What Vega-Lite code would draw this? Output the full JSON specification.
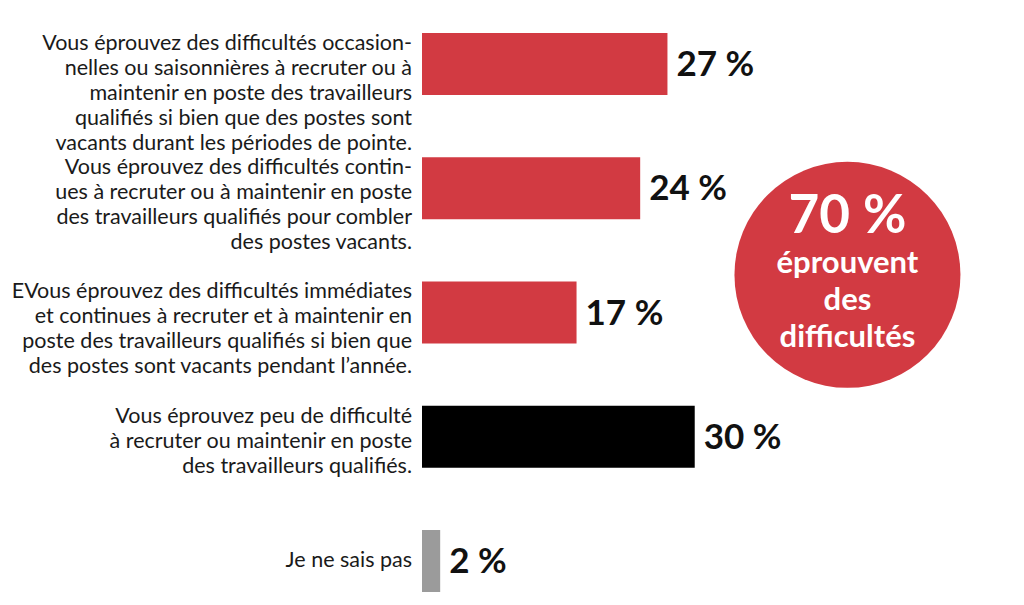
{
  "$schema": "https://vega.github.io/schema/vega-lite/v6.json",
  "autosize": "none",
  "width": 600,
  "height": 579,
  "padding": {"left": 422, "top": 23, "right": 2, "bottom": 3},
  "background": "white",
  "config": {"view": {"stroke": null}, "font": "Lato"},
  "datasets": {
    "bars": [
      {"cat": "a", "label": "Vous éprouvez des difficultés occasion-\nnelles ou saisonnières à recruter ou à\nmaintenir en poste des travailleurs\nqualifiés si bien que des postes sont\nvacants durant les périodes de pointe.", "value": 27, "valueLabel": "27 %", "group": "diff"},
      {"cat": "b", "label": "Vous éprouvez des difficultés contin-\nues à recruter ou à maintenir en poste\ndes travailleurs qualifiés pour combler\ndes postes vacants.", "value": 24, "valueLabel": "24 %", "group": "diff"},
      {"cat": "c", "label": "EVous éprouvez des difficultés immédiates\net continues à recruter et à maintenir en\nposte des travailleurs qualifiés si bien que\ndes postes sont vacants pendant l’année.", "value": 17, "valueLabel": "17 %", "group": "diff"},
      {"cat": "d", "label": "Vous éprouvez peu de difficulté\nà recruter ou maintenir en poste\ndes travailleurs qualifiés.", "value": 30, "valueLabel": "30 %", "group": "peu"},
      {"cat": "e", "label": "Je ne sais pas", "value": 2, "valueLabel": "2 %", "group": "ns"}
    ],
    "badge": [
      {"x": 46.8, "y": 0.565, "big": "70 %", "small": "éprouvent\ndes\ndifficultés"}
    ]
  },
  "resolve": {"scale": {"y": "independent"}},
  "layer": [
    {
      "data": {"name": "bars"},
      "encoding": {
        "y": {"field": "cat", "type": "nominal", "axis": null,
              "scale": {"paddingInner": 0.501, "paddingOuter": 0.0805}}
      },
      "layer": [
        {
          "mark": {"type": "bar"},
          "encoding": {
            "x": {"field": "value", "type": "quantitative", "axis": null,
                  "scale": {"domain": [0, 66], "nice": false}},
            "color": {"field": "group", "type": "nominal", "legend": null,
                      "scale": {"domain": ["diff", "peu", "ns"], "range": ["#D23A42", "#000000", "#9B9B9B"]}}
          }
        },
        {
          "mark": {"type": "text", "align": "left", "baseline": "middle", "dx": 9, "dy": 1, "fontSize": 35, "fontWeight": "bold", "color": "#111111"},
          "encoding": {
            "x": {"field": "value", "type": "quantitative"},
            "text": {"field": "valueLabel"}
          }
        },
        {
          "transform": [{"filter": "datum.cat != 'e'"}],
          "mark": {"type": "text", "align": "right", "baseline": "top", "dx": -10, "dy": 0, "fontSize": 21.5, "lineHeight": 25, "lineBreak": "\n", "color": "#1a1a1a"},
          "encoding": {
            "x": {"datum": 0, "type": "quantitative"},
            "y": {"field": "cat", "type": "nominal", "bandPosition": 0},
            "text": {"field": "label"}
          }
        },
        {
          "transform": [{"filter": "datum.cat == 'e'"}],
          "mark": {"type": "text", "align": "right", "baseline": "middle", "dx": -10, "fontSize": 21.5, "color": "#1a1a1a"},
          "encoding": {
            "x": {"datum": 0, "type": "quantitative"},
            "text": {"field": "label"}
          }
        }
      ]
    },
    {
      "data": {"name": "badge"},
      "encoding": {
        "x": {"field": "x", "type": "quantitative"},
        "y": {"field": "y", "type": "quantitative", "axis": null, "scale": {"domain": [0, 1], "nice": false}}
      },
      "layer": [
        {
          "mark": {"type": "point", "shape": "circle", "filled": true, "size": 51076, "color": "#D23A42", "opacity": 1}
        },
        {
          "mark": {"type": "text", "align": "center", "baseline": "alphabetic", "dy": -42, "fontSize": 53, "fontWeight": "bold", "color": "white"},
          "encoding": {"text": {"field": "big"}}
        },
        {
          "mark": {"type": "text", "align": "center", "baseline": "alphabetic", "dy": -2, "fontSize": 31, "fontWeight": "bold", "lineHeight": 37, "lineBreak": "\n", "color": "white"},
          "encoding": {"text": {"field": "small"}}
        }
      ]
    }
  ]
}
